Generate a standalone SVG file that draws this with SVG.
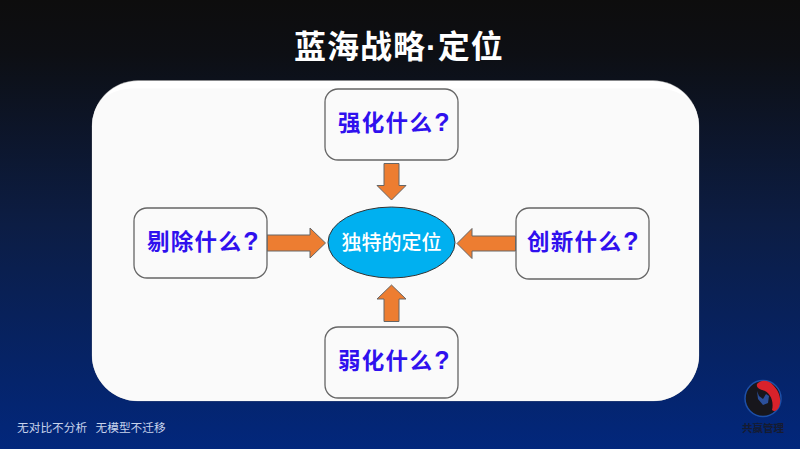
<svg xmlns="http://www.w3.org/2000/svg" width="800" height="449" viewBox="0 0 800 449">
<style>
text{font-family:"Noto Sans CJK SC","Liberation Sans",sans-serif}
.q{font-size:22.500px;font-weight:700;fill:#2f10ee;letter-spacing:1.300px}
.qm{font-family:"Liberation Sans",sans-serif;font-size:25px}
.box{fill:#fafafa;stroke:#666;stroke-width:1.300}
.arr{fill:#ed7d31;stroke:#666;stroke-width:1}
.foot{font-size:11.700px;fill:#c8d4ec}
</style>
<defs>
<linearGradient id="bg" x1="0" y1="0" x2="0" y2="1">
<stop offset="0" stop-color="#0d0d0d"/><stop offset=".12" stop-color="#0d0f14"/><stop offset=".5" stop-color="#0c1d44"/><stop offset="1" stop-color="#02277c"/>
</linearGradient>
</defs>
<rect width="800" height="449" fill="url(#bg)"/>
<text x="294" y="58" font-size="32" font-weight="700" fill="#fff" letter-spacing="1" style="font-family:'Liberation Sans','Noto Sans CJK SC',sans-serif">蓝海战略·定位</text>
<rect x="92" y="80.500" width="607" height="320.500" rx="46" fill="#fff" stroke="#8a8a8a" stroke-width=".4"/>
<path d="M92 127Q92 92 130 88.500H660Q699 92 699 127V355A46 46 0 0 1 653 401H138A46 46 0 0 1 92 355Z" fill="#fafafa"/>
<g id="connectors">
<path class="arr" d="M384 163.500H399V185.500H406L391.500 200L377 185.500H384Z"/>
<path class="arr" d="M267 235H310V228L325.500 243L310 258V251H267Z"/>
<path class="arr" d="M515.500 236H472V228.500L457 243.500L472 258.500V251H515.500Z"/>
<path class="arr" d="M384 321.500V299H377L391.500 285L406 299H399V321.500Z"/>
</g>
<g id="n-strengthen"><rect class="box" x="325" y="89" width="133" height="71" rx="13"/><text class="q" x="338" y="131">强化什么<tspan class="qm" dx="1">?</tspan></text></g>
<g id="n-eliminate"><rect class="box" x="134" y="208" width="133" height="70" rx="13"/><text class="q" x="147" y="250">剔除什么<tspan class="qm" dx="1">?</tspan></text></g>
<g id="n-create"><rect class="box" x="516" y="208" width="133" height="71" rx="13"/><text class="q" x="527" y="250">创新什么<tspan class="qm" dx="1">?</tspan></text></g>
<g id="n-weaken"><rect class="box" x="325" y="327" width="133" height="71" rx="13"/><text class="q" x="338" y="369">弱化什么<tspan class="qm" dx="1">?</tspan></text></g>
<g id="n-center"><ellipse cx="391.500" cy="242.500" rx="63.500" ry="35.500" fill="#00b0f0" stroke="#333" stroke-width="1"/><text x="391.500" y="250" font-size="20" font-weight="500" fill="#fff" text-anchor="middle">独特的定位</text></g>
<text class="foot" x="17" y="432">无对比不分析</text>
<text class="foot" x="95.500" y="432">无模型不迁移</text>
<g id="logo">
<circle cx="763" cy="398.500" r="18" fill="#17161c" stroke="#1d4fa8" stroke-width="1.500"/>
<path d="M757 384C760 380 768 379 773 385C779 391 782 399 779 407C777 411 774 412 772 410C774 402 771 392 762 390C759 389 756 387 757 384Z" fill="#d8222b"/>
<path d="M757 391L759 396L763 399L766 394L769 396L768 403L763 405L758 399Z" fill="#2b4f9a"/>
<text x="763" y="431.500" font-size="10.500" font-weight="700" fill="#161b30" text-anchor="middle">共赢管理</text>
</g>
</svg>
